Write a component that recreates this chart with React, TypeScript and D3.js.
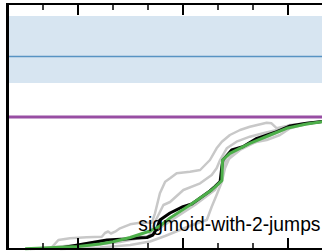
import React from "react";
import * as d3 from "d3";

const W = 322;
const H = 252;

// x ticks (major every third)
const xTicks = [1, 2, 3, 4, 5, 6, 7, 8];
const xMajor = [2, 5, 8];

// reference band and lines
const bandLow = 16.6;
const bandHigh = 23.3;
const blueLevel = 19.25;
const purpleLevel = 13.2;

const label = "sigmoid-with-2-jumps";

const greenX = [0.49, 1.2, 2.0, 2.63, 3.0, 3.49, 4.06, 4.34, 4.63, 5.2, 5.82, 6.11, 6.13, 6.34, 6.91, 7.49, 7.96, 8.53, 9.0];
const greenY = [0.03, 0.12, 0.25, 0.5, 0.73, 1.15, 1.8, 2.3, 3.1, 4.4, 5.9, 6.83, 8.9, 9.57, 10.57, 11.4, 12.07, 12.5, 12.75];

const blackX = [1.49, 2.0, 2.49, 2.83, 3.34, 3.69, 3.97, 4.14, 4.26, 4.34, 4.63, 5.0, 5.25, 5.49, 5.77, 5.91, 6.06, 6.11, 6.14, 6.39, 6.71, 7.11, 7.68, 8.06, 8.53, 9.0];
const blackY = [0.1, 0.4, 0.7, 0.9, 1.0, 1.1, 1.15, 1.4, 2.1, 2.9, 3.6, 4.23, 4.5, 5.1, 5.8, 6.23, 6.73, 8.23, 8.9, 9.9, 10.23, 11.07, 11.73, 12.3, 12.57, 12.75];

const gray1X = [1.25, 1.44, 1.77, 2.25, 2.68, 2.77, 2.86, 2.94, 3.06, 3.2, 3.49, 3.77, 4.11, 4.2, 4.34, 4.49, 4.63, 4.82, 5.2, 5.49, 5.77, 5.96, 6.11, 6.34, 6.63, 6.91, 7.39, 7.53, 7.68, 7.87, 8.15, 9.0];
const gray1Y = [0.17, 0.9, 1.07, 1.17, 1.23, 1.6, 1.75, 1.55, 1.73, 2.07, 2.47, 2.63, 2.63, 3.57, 5.57, 6.73, 7.07, 7.57, 7.73, 7.9, 8.9, 10.07, 10.73, 11.4, 11.9, 12.23, 12.63, 12.57, 12.07, 12.23, 12.4, 12.75];

const gray2X = [0.91, 1.96, 2.25, 2.91, 3.2, 3.77, 4.01, 4.11, 4.25, 4.44, 4.63, 5.01, 5.49, 5.82, 5.96, 6.06, 6.25, 6.53, 6.91, 7.29, 7.68, 8.06, 9.0];
const gray2Y = [0.07, 0.4, 0.57, 0.83, 0.97, 1.23, 1.23, 1.9, 3.07, 4.4, 4.7, 5.9, 6.57, 7.4, 8.07, 8.9, 10.07, 10.73, 11.23, 11.57, 11.9, 12.4, 12.75];

const gray3X = [1.49, 2.63, 3.49, 4.06, 4.49, 4.91, 5.34, 5.68, 5.82, 5.96, 6.11, 6.2, 6.34, 6.63, 6.91, 7.39, 7.77, 8.06, 8.49, 9.0];
const gray3Y = [0.0, 0.15, 0.4, 0.75, 1.3, 1.9, 2.5, 2.9, 4.23, 5.4, 6.73, 8.07, 9.23, 10.07, 10.57, 10.9, 11.4, 12.07, 12.5, 12.75];

const gray4X = [0.63, 2.0, 3.2, 4.06, 4.34, 4.77, 5.34, 5.91, 6.11, 6.2, 6.63, 7.2, 8.06, 9.0];
const gray4Y = [0.0, 0.2, 0.7, 1.3, 2.1, 3.1, 4.4, 5.9, 7.1, 8.7, 9.9, 10.9, 12.2, 12.75];

const grays = [
  [gray1X, gray1Y],
  [gray2X, gray2Y],
  [gray3X, gray3Y],
  [gray4X, gray4Y],
];

const x = d3.scaleLinear().domain([0, 9]).range([8, 323]);
const y = d3.scaleLinear().domain([0, 24.5]).range([249, 4]);

const line = d3
  .line<[number, number]>()
  .x((d) => x(d[0]))
  .y((d) => y(d[1]));

const zip = (a: number[], b: number[]) => a.map((v, i) => [v, b[i]] as [number, number]);

export default function App() {
  return (
    <svg
      width={W}
      height={H}
      style={{ position: "absolute", left: 0, top: 0, background: "#fff" }}
    >
      <rect
        x={x(0)}
        width={W - x(0)}
        y={y(bandHigh)}
        height={y(bandLow) - y(bandHigh)}
        fill="#377eb8"
        fillOpacity={0.2}
      />
      <line x1={x(0)} x2={W} y1={y(blueLevel)} y2={y(blueLevel)} stroke="#377eb8" strokeOpacity={0.8} strokeWidth={1.6} />
      <line x1={x(0)} x2={W} y1={y(purpleLevel)} y2={y(purpleLevel)} stroke="#984ea3" strokeWidth={3} />
      {grays.map(([gx, gy], i) => (
        <path key={i} d={line(zip(gx, gy)) || ""} fill="none" stroke="#c8c8c8" strokeWidth={2.5} strokeLinejoin="round" />
      ))}
      <path d={line(zip(blackX, blackY)) || ""} fill="none" stroke="#000" strokeWidth={3} strokeLinejoin="round" />
      <path d={line(zip(greenX, greenY)) || ""} fill="none" stroke="#4daf4a" strokeWidth={3} strokeLinejoin="round" />
      <text
        x={320.5}
        y={230.5}
        textAnchor="end"
        fontFamily="Liberation Sans, Arial, sans-serif"
        fontSize={19.3}
        fill="#000"
      >
        {label}
      </text>
      {/* axes */}
      <line x1={6} x2={W} y1={4} y2={4} stroke="#000" strokeWidth={2} />
      <line x1={6} x2={W} y1={249} y2={249} stroke="#000" strokeWidth={2} />
      <line x1={7.5} x2={7.5} y1={3} y2={250} stroke="#000" strokeWidth={3} />
      {xTicks.map((t) => {
        const major = xMajor.includes(t);
        const len = major ? 11 : 6;
        const sw = major ? 2 : 1.5;
        return (
          <g key={t}>
            <line x1={x(t)} x2={x(t)} y1={4} y2={4 + len} stroke="#000" strokeWidth={sw} />
            <line x1={x(t)} x2={x(t)} y1={249} y2={249 - len} stroke="#000" strokeWidth={sw} />
          </g>
        );
      })}
    </svg>
  );
}
